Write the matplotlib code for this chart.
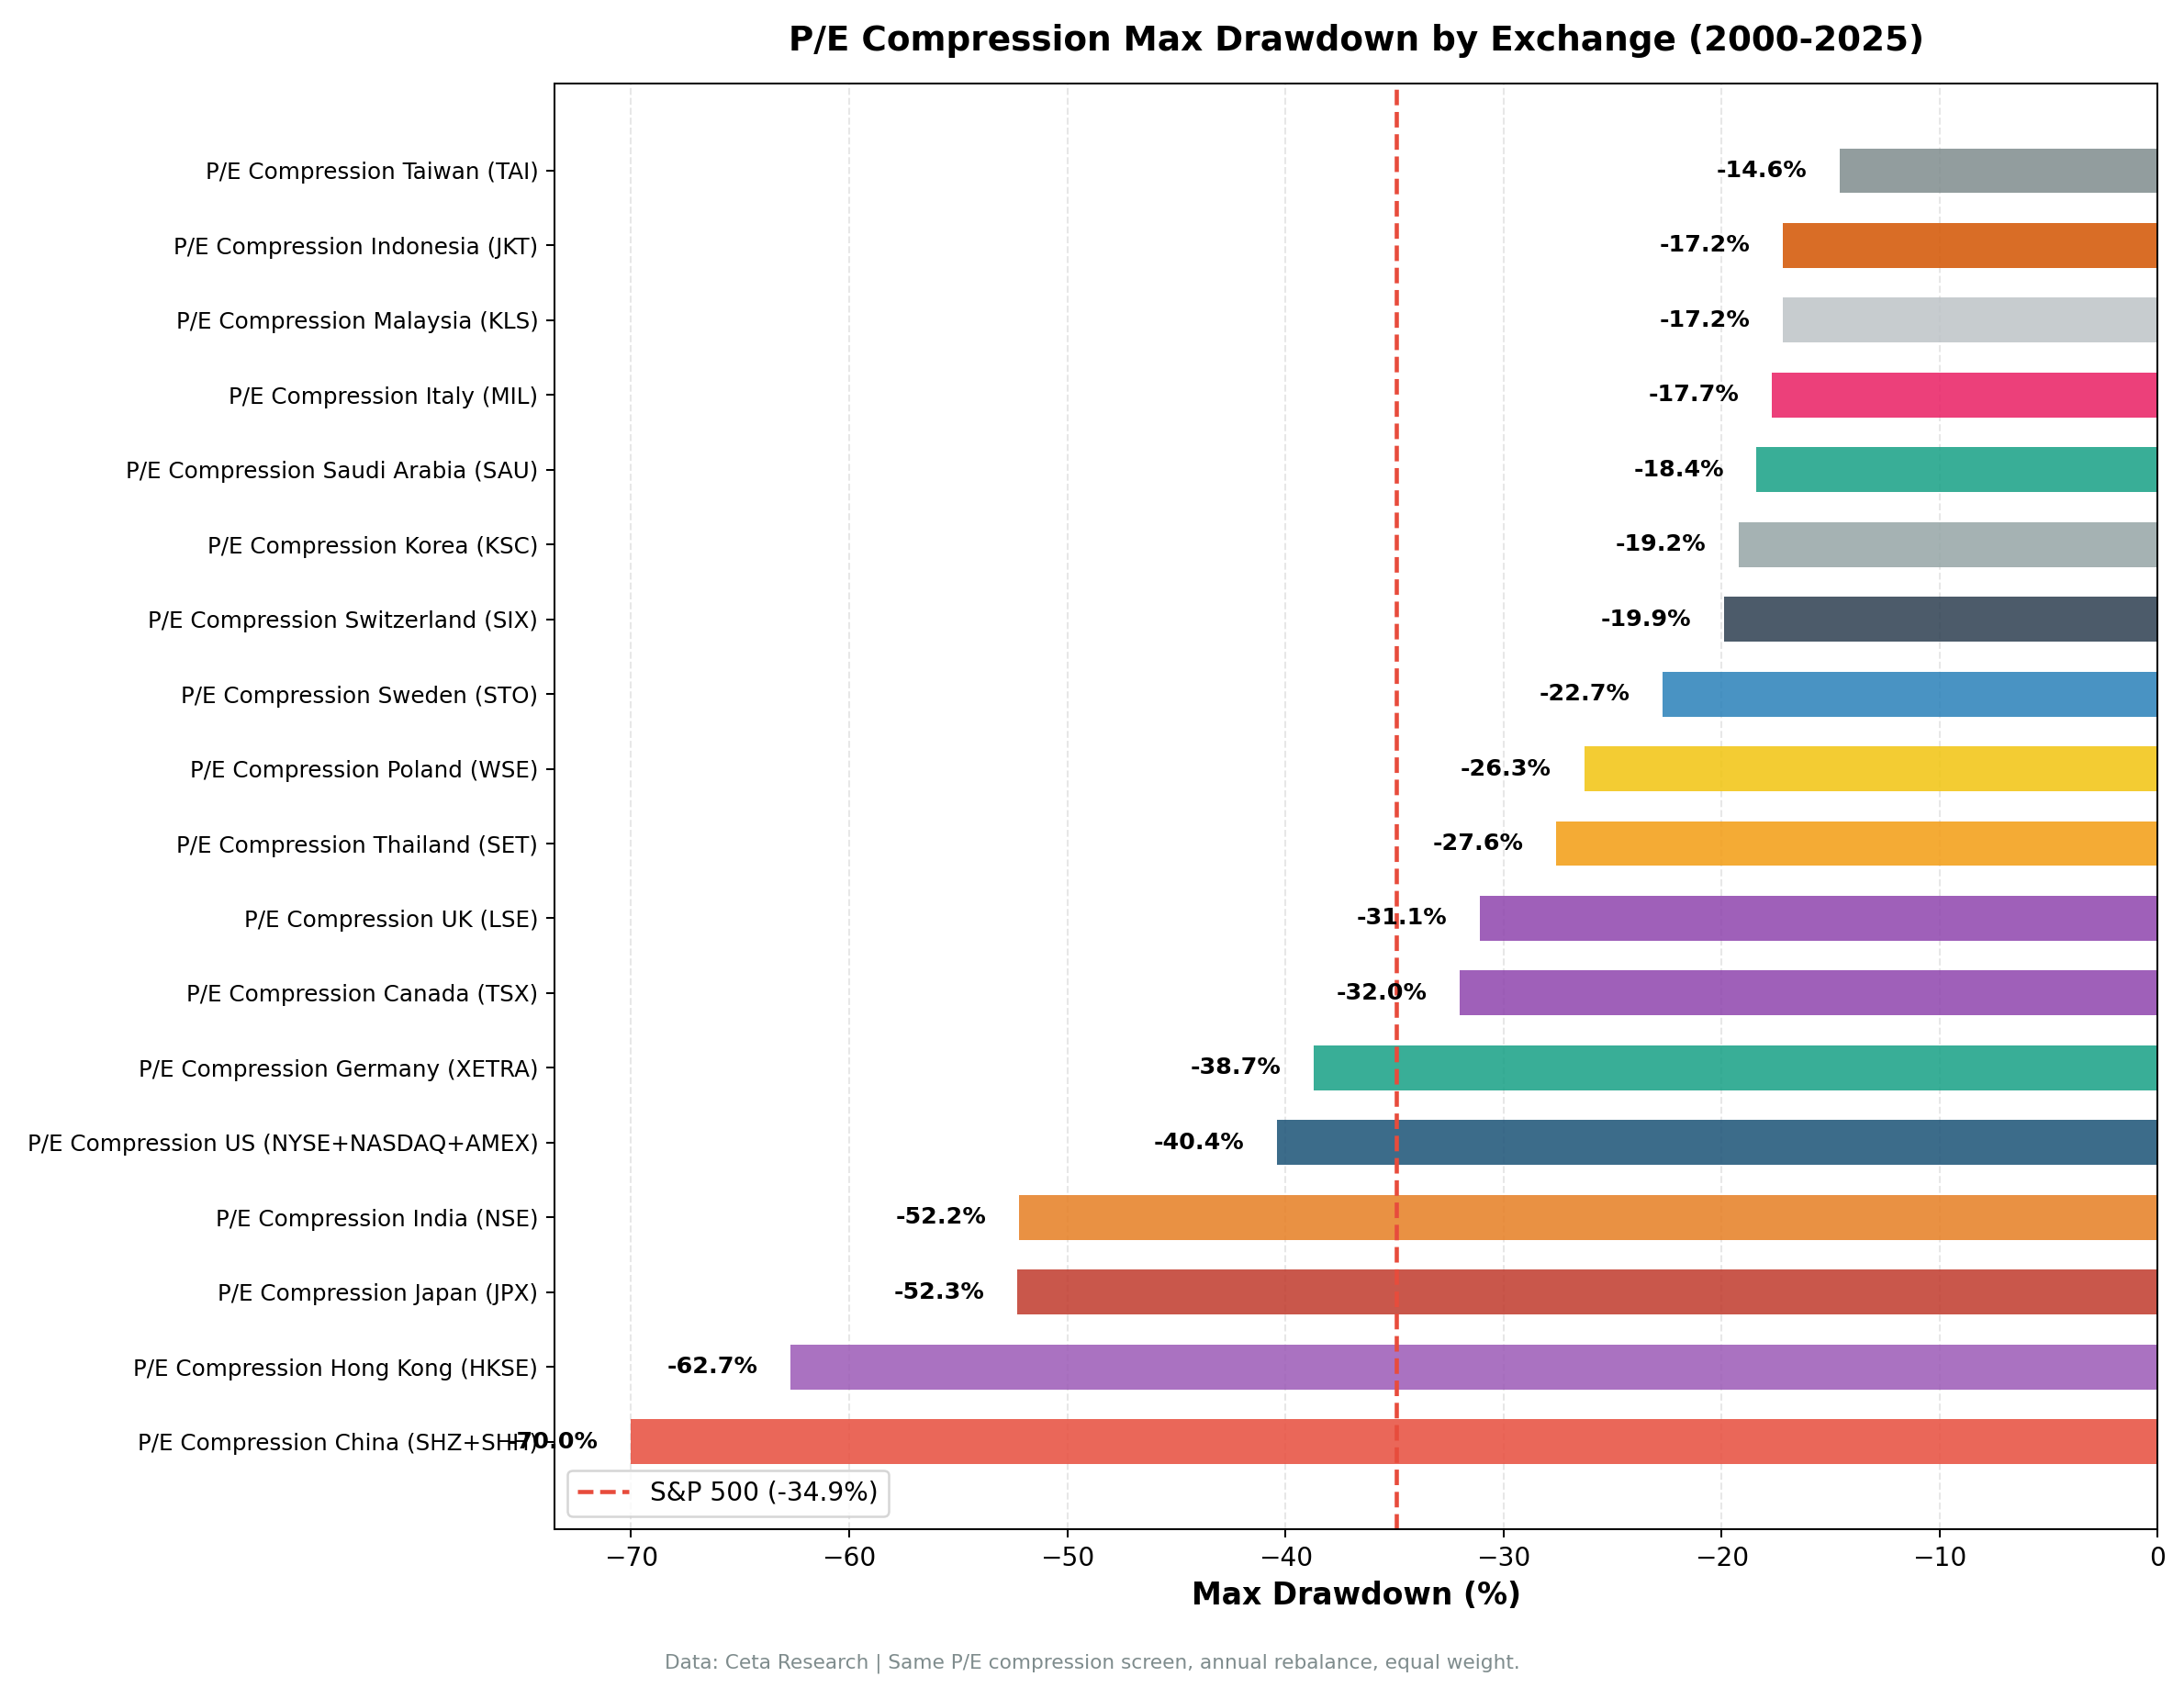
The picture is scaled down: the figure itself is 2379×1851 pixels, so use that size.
import matplotlib
matplotlib.use("Agg")
import matplotlib.pyplot as plt

labels = ["P/E Compression China (SHZ+SHH)", "P/E Compression Hong Kong (HKSE)", "P/E Compression Japan (JPX)",
          "P/E Compression India (NSE)", "P/E Compression US (NYSE+NASDAQ+AMEX)", "P/E Compression Germany (XETRA)",
          "P/E Compression Canada (TSX)", "P/E Compression UK (LSE)", "P/E Compression Thailand (SET)",
          "P/E Compression Poland (WSE)", "P/E Compression Sweden (STO)", "P/E Compression Switzerland (SIX)",
          "P/E Compression Korea (KSC)", "P/E Compression Saudi Arabia (SAU)", "P/E Compression Italy (MIL)",
          "P/E Compression Malaysia (KLS)", "P/E Compression Indonesia (JKT)", "P/E Compression Taiwan (TAI)"]
values = [-70.0, -62.7, -52.3, -52.2, -40.4, -38.7, -32.0, -31.1, -27.6, -26.3, -22.7, -19.9, -19.2, -18.4, -17.7, -17.2, -17.2, -14.6]
colors = ["#e74c3c", "#9b59b6", "#c0392b", "#e67e22", "#1a5276", "#16a085", "#8e44ad", "#8e44ad", "#f39c12",
          "#f1c40f", "#2980b9", "#2c3e50", "#95a5a6", "#16a085", "#e91e63", "#bdc3c7", "#d35400", "#7f8c8d"]
sp500 = -34.9

fig = plt.figure(figsize=(2379/183, 1851/183), dpi=183)
ax = fig.add_axes([0.254, 0.1, 0.734, 0.851])
y = range(len(values))
ax.barh(y, values, color=colors, alpha=0.85, height=0.6)
for i, v in enumerate(values):
    ax.text(v - 1.5, i, f"{v:.1f}%", ha="right", va="center", fontsize=10, fontweight="bold")
ax.axvline(sp500, color="#e74c3c", linestyle="--", linewidth=1.8, label=f"S&P 500 ({sp500}%)")
ax.set_yticks(list(y))
ax.set_yticklabels(labels, fontsize=9.7)
ax.set_xlim(-73.5, 0)
ax.set_ylim(-1.17, 18.17)
ax.grid(axis="x", linestyle="--", alpha=0.3)
ax.set_axisbelow(True)
ax.tick_params(axis="x", labelsize=11)
ax.set_xlabel("Max Drawdown (%)", fontsize=13, fontweight="bold")
ax.set_title("P/E Compression Max Drawdown by Exchange (2000-2025)", fontsize=14.7, fontweight="bold", pad=14)
ax.legend(loc="lower left", fontsize=11)
fig.text(0.5, 0.018, "Data: Ceta Research | Same P/E compression screen, annual rebalance, equal weight.",
         ha="center", fontsize=8.5, color="#7f8c8d")
fig.savefig("out.png", dpi=183)
